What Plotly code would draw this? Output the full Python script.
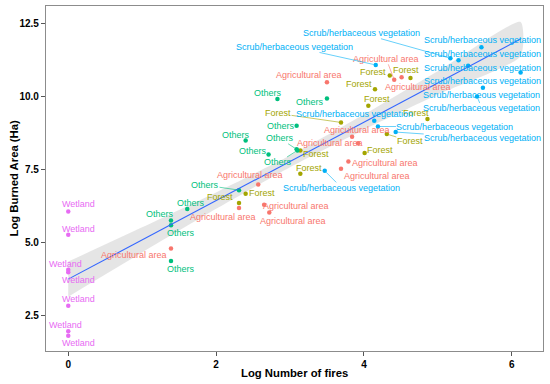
import numpy as np
import plotly.graph_objects as go

# ---------------- data ----------------
categories = ["Agricultural area", "Forest", "Others",
              "Scrub/herbaceous vegetation", "Wetland"]
colors = ["#F8766D", "#A3A500", "#00BF7D", "#00B0F6", "#E76BF3"]

agri_x = [1.39, 2.31, 2.65, 2.72, 2.57, 3.92, 3.84, 3.79, 3.69, 3.50, 4.41, 4.51]
agri_y = [4.78, 6.17, 6.28, 6.01, 6.97, 8.39, 8.61, 7.76, 7.51, 10.48, 10.56, 10.65]

forest_x = [2.31, 2.40, 3.14, 3.14, 3.69, 4.01, 4.06, 4.15, 4.35, 4.63, 4.86, 4.31]
forest_y = [6.34, 6.66, 8.14, 7.34, 9.10, 8.05, 9.67, 10.24, 10.71, 10.62, 9.22, 8.70]

others_x = [1.39, 1.39, 1.39, 1.61, 2.31, 2.40, 2.71, 2.83, 3.50, 3.09, 3.09, 3.10]
others_y = [5.74, 5.58, 4.35, 6.13, 6.78, 8.48, 8.00, 9.90, 9.92, 8.99, 8.18, 8.14]

scrub_x = [4.16, 5.17, 5.28, 5.59, 5.41, 6.12, 5.61, 5.53, 4.14, 4.19, 4.43, 3.47]
scrub_y = [11.07, 11.30, 11.23, 11.68, 11.04, 10.81, 10.29, 9.99, 9.16, 8.96, 8.77, 7.44]

wet_x = [0, 0, 0, 0, 0, 0, 0]
wet_y = [6.05, 5.25, 4.05, 3.97, 2.82, 1.94, 1.79]

# fitted linear trend and its 95% band
fit_x = [0.0, 6.12]
fit_y = [3.73, 11.96]
band_x = [0.0, 1.0, 2.0, 3.0, 4.0, 5.0, 6.12]
band_half = [0.60, 0.43, 0.28, 0.20, 0.26, 0.40, 0.58]

x_ticks = [0, 2, 4, 6]
y_ticks = [2.5, 5.0, 7.5, 10.0, 12.5]
y_tick_labels = ["2.5", "5.0", "7.5", "10.0", "12.5"]

# label placement: pixel offsets of label centre from point, and whether a segment is drawn
agri_lab = [(-37, 7, 0), (-16, 9, 0), (32, 1, 0), (24, 8, 0), (-8, -10, 0), (-28, 0, 0),
            (5, -7, 0), (37, 1, 0), (36, 7, 0), (-18, -7, 0), (-8, -21, 1), (16, 10, 0)]
forest_lab = [(-19, -6, 0), (16, -1, 0), (16, 4, 0), (9, -6, 0), (-63, -9, 1), (15, -3, 0),
              (9, -7, 0), (-16, -5, 0), (-17, -3, 0), (-4, -8, 0), (-11, -6, 0), (23, 7, 1)]
others_lab = [(-11, -6, 0), (10, 8, 0), (10, 8, 0), (4, -6, 0), (-34, -5, 1), (-10, -6, 0),
              (-16, -4, 0), (-9, -6, 0), (-17, 3, 0), (-16, 0, 0), (-17, -11, 1), (-19, 12, 1)]
scrub_lab = [(-81, -18, 1), (-89, -25, 1), (24, -6, 0), (1, -7, 0), (14, 2, 0), (-38, 8, 0),
             (-1, 7, 0), (5, 12, 1), (-20, -7, 0), (77, 0, 1), (87, 6, 1), (17, 17, 1)]
wet_lab = [(10, -7, 0), (10, -6, 0), (-3, -6, 0), (10, 8, 0), (10, -7, 0), (-3, -6, 0), (10, 7, 0)]

series_x = [agri_x, forest_x, others_x, scrub_x, wet_x]
series_y = [agri_y, forest_y, others_y, scrub_y, wet_y]
series_lab = [agri_lab, forest_lab, others_lab, scrub_lab, wet_lab]

FONT = "Liberation Sans, Arial, sans-serif"

# ---------------- figure ----------------
bx = np.array(band_x)
bc = np.interp(bx, fit_x, fit_y)
bh = np.array(band_half)

fig = go.Figure()
fig.add_trace(go.Scatter(x=np.concatenate([bx, bx[::-1]]),
                         y=np.concatenate([bc + bh, (bc - bh)[::-1]]),
                         mode="lines", fill="toself",
                         fillcolor="rgba(153,153,153,0.25)",
                         line=dict(width=0, shape="spline", smoothing=0.6),
                         hoverinfo="skip", showlegend=False))

for cat, col, xs, ys in zip(categories, colors, series_x, series_y):
    fig.add_trace(go.Scatter(x=xs, y=ys, mode="markers", name=cat,
                             marker=dict(color=col, size=4.5), showlegend=False))

fig.add_trace(go.Scatter(x=fit_x, y=fit_y, mode="lines",
                         line=dict(color="#3366FF", width=1.1), showlegend=False))

annotations = []
for cat, col, xs, ys, labs in zip(categories, colors, series_x, series_y, series_lab):
    for xv, yv, (dx, dy, seg) in zip(xs, ys, labs):
        annotations.append(dict(
            x=xv, y=yv, xref="x", yref="y", text=cat,
            showarrow=True, ax=dx, ay=dy, arrowhead=0, arrowwidth=0.6,
            arrowcolor=col if seg else "rgba(0,0,0,0)", standoff=2,
            font=dict(size=9, color=col, family=FONT), borderpad=0))

annotations.append(dict(text="<b>Log Number of fires</b>", xref="paper", yref="paper",
                        x=0.5, y=0, yshift=-22, showarrow=False, yanchor="middle",
                        font=dict(size=11.3, color="black", family=FONT)))
annotations.append(dict(text="<b>Log Burned Area (Ha)</b>", xref="paper", yref="paper",
                        x=0, y=0.5, xshift=-33, showarrow=False, textangle=-90,
                        xanchor="center", yanchor="middle",
                        font=dict(size=11.3, color="black", family=FONT)))

axis_common = dict(showgrid=False, zeroline=False, showline=True, mirror=True,
                   linecolor="#8c8c8c", linewidth=1.2, ticks="outside", ticklen=4,
                   tickcolor="#555555", tickwidth=1,
                   tickfont=dict(size=10, color="black", family=FONT, weight="bold"))

fig.update_layout(
    width=550, height=384, autosize=False,
    margin=dict(l=46, r=7, t=6, b=33),
    paper_bgcolor="white", plot_bgcolor="white",
    hovermode=False,
    xaxis=dict(range=[-0.301, 6.423], tickvals=x_ticks,
               ticktext=[str(v) for v in x_ticks], **axis_common),
    yaxis=dict(range=[1.267, 13.09], tickvals=y_ticks, ticktext=y_tick_labels,
               **axis_common),
    annotations=annotations,
)

fig.write_html("out.html", config={"displayModeBar": False},
               post_script="document.body.style.margin='0px';document.body.style.overflow='hidden';")
